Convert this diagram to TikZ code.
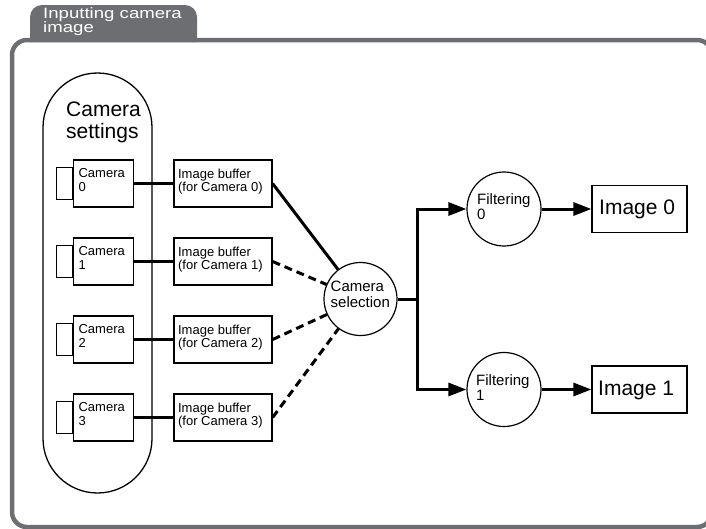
\documentclass[tikz,border=0pt]{standalone}
\usepackage{fontspec}
\usepackage{graphicx}
\setmainfont{Liberation Sans}
\usetikzlibrary{arrows.meta}
\definecolor{framegray}{HTML}{6D6E71}
\newcommand\fsz[2]{\fontsize{#1}{#2}\selectfont\lineskiplimit=-100pt\relax}
\begin{document}
\begin{tikzpicture}[x=1pt,y=-1pt,
  box/.style={draw, line width=1.2pt, inner sep=0pt},
  cam/.style={box, minimum width=60pt, minimum height=47pt},
  lens/.style={box, minimum width=16pt, minimum height=32pt},
  buf/.style={box, minimum width=98pt, minimum height=47pt},
  imgbox/.style={box, minimum width=95pt, minimum height=47pt},
  circ/.style={circle, draw, line width=1.2pt, inner sep=0pt},
  lbl/.style={inner sep=0pt, align=left, anchor=north west},
  smalltxt/.style={lbl, font=\fsz{13}{14}},
  buftxt/.style={lbl, font=\fsz{13}{12.5}},
  conn/.style={line width=3pt},
  dconn/.style={line width=3pt, dash pattern=on 8pt off 5pt},
  arr/.style={line width=3pt, -{Triangle[length=18pt,width=13pt]}}
]
\useasboundingbox (0,0) rectangle (706,528);
\clip (0,0) rectangle (706,528);

% outer frame and tab
\draw[framegray, line width=4.5pt, rounded corners=15pt] (12,40) rectangle (712,527);
\fill[framegray] (30,42) -- (30,30) [rounded corners=12pt] -- (30,5) -- (197,5) -- (197,30) [sharp corners] -- (197,42) -- cycle;
\node[lbl, text=white, font=\fsz{15}{14}] (tabtxt) at (43,7.5)
  {\scalebox{1.24}[1]{Inputting camera}\\\scalebox{1.24}[1]{image}};

% camera settings capsule
\draw[line width=1.3pt, rounded corners=54.5pt] (43,73) rectangle (152,493);
\node[lbl, font=\fsz{21}{22}] (settxt) at (66,101.5) {Camera\\settings};

% camera selection
\node[circ, minimum size=73pt] (sel) at (360.5,299) {};
\node[lbl, font=\fsz{15}{16}] (seltxt) at (330.5,281) {Camera\\selection};

% rows
\foreach \i/\y in {0/183.5,1/261.5,2/339.5,3/417.5}{
  \node[cam] (c\i) at (103.5,\y) {};
  \node[lens, anchor=east] (l\i) at (c\i.west) {};
  \node[smalltxt] (ct\i) at ([shift={(5.5,8.5)}]c\i.north west) {Camera\\\i};
  \node[buf] (b\i) at (223,\y) {};
  \node[buftxt] (bt\i) at ([shift={(4.5,9.5)}]b\i.north west) {Image buffer\\(for Camera \i)};
  \draw[conn] (c\i) -- (b\i);
}
\draw[conn] (b0.east) -- (sel);
\foreach \i in {1,2,3}{ \draw[dconn] (b\i.east) -- (sel); }

% filtering and outputs
\coordinate (jt) at (417,299);
\node[circ, minimum size=74pt] (f0) at (504,209) {};
\node[circ, minimum size=74pt] (f1) at (504,389.5) {};
\node[lbl, font=\fsz{15}{15}] (ft0) at (477,193) {Filtering\\0};
\node[lbl, font=\fsz{15}{15}] (ft1) at (476,374.5) {Filtering\\1};
\node[imgbox] (i0) at (639.5,209) {};
\node[imgbox] (i1) at (639.5,389.5) {};
\node[inner sep=0pt, anchor=base west, font=\fsz{21}{22}] (it0) at (599,214) {Image 0};
\node[inner sep=0pt, anchor=base west, font=\fsz{21}{22}] (it1) at (598,395) {Image 1};

\draw[conn] (sel) -- (jt);
\draw[arr] (jt) |- (f0);
\draw[arr] (jt) |- (f1);
\draw[arr] (f0) -- (i0);
\draw[arr] (f1) -- (i1);
\end{tikzpicture}
\end{document}
